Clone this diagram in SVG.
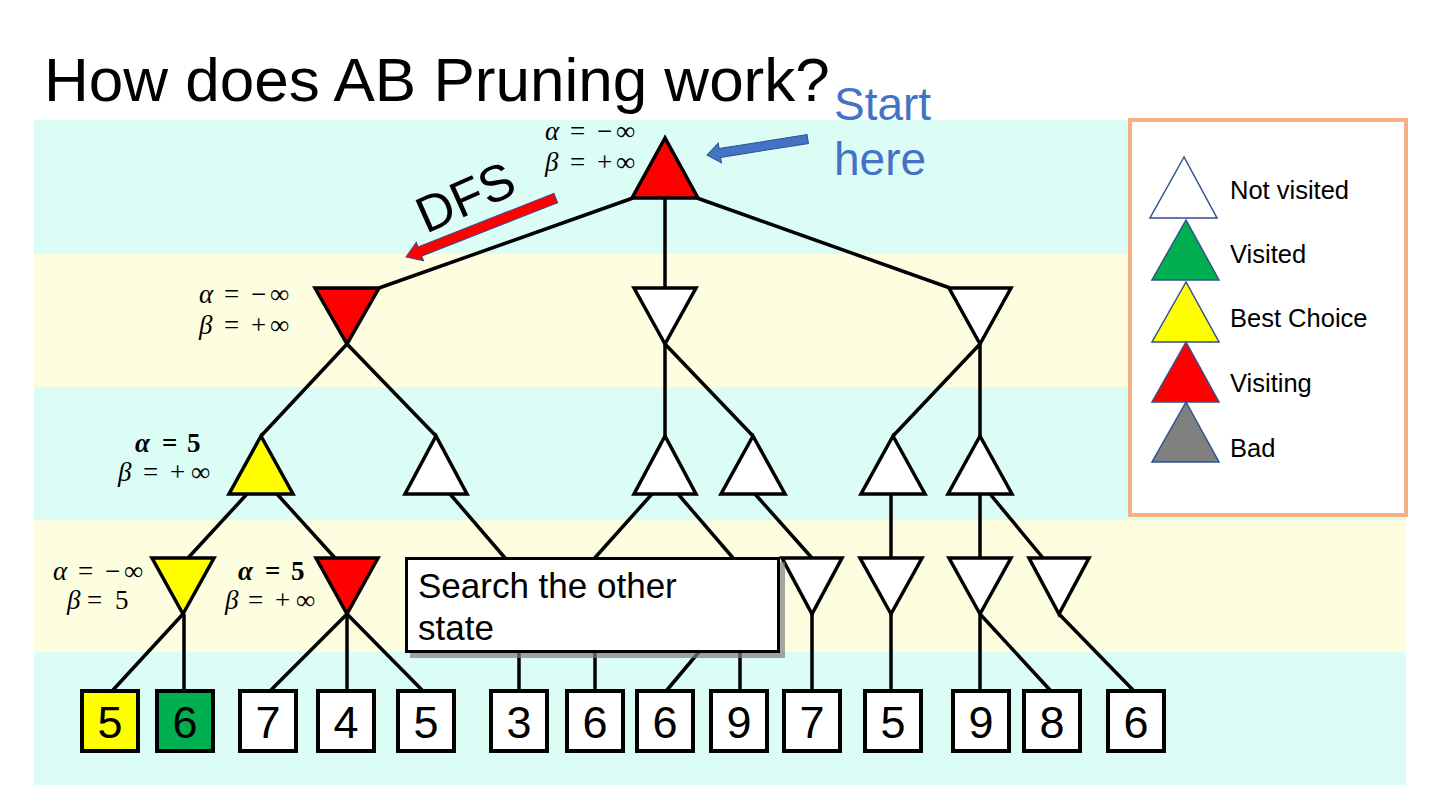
<svg xmlns="http://www.w3.org/2000/svg" width="1440" height="810" viewBox="0 0 1440 810">
<style>
.bc{fill:#dcfcf6}
.by{fill:#fdfddf}
.tri{stroke:#000;stroke-width:3.5;stroke-linejoin:miter}
.w{fill:#fff}.r{fill:#ff0000}.y{fill:#ffff00}.g{fill:#00b050}
.edge line{stroke:#000;stroke-width:3.5;stroke-linecap:butt}
.leaf{stroke:#000;stroke-width:4}
.num{font-family:"Liberation Sans",Arial,sans-serif;font-size:45px;text-anchor:middle;fill:#000}
.math{font-family:"Liberation Serif","Times New Roman",serif;font-size:27px;fill:#000}
.it{font-style:italic}
.bd{font-weight:bold}
.lg{stroke:#2f528f;stroke-width:1.5}
.lt{font-family:"Liberation Sans",Arial,sans-serif;font-size:25.5px;fill:#000}
.sans{font-family:"Liberation Sans",Arial,sans-serif}
</style>
<rect width="1440" height="810" fill="#fff"/>
<g id="bands">
<rect class="bc" x="34" y="120" width="1372" height="134"/>
<rect class="by" x="34" y="254" width="1372" height="133"/>
<rect class="bc" x="34" y="387" width="1372" height="133"/>
<rect class="by" x="34" y="520" width="1372" height="132"/>
<rect class="bc" x="34" y="652" width="1372" height="133"/>
</g>
<g id="connectors" class="edge">
<line x1="633" y1="198" x2="379" y2="288"/>
<line x1="665" y1="198" x2="665" y2="288"/>
<line x1="697" y1="198" x2="950" y2="288"/>
<line x1="347" y1="344" x2="261" y2="436"/>
<line x1="347" y1="344" x2="436" y2="436"/>
<line x1="665" y1="344" x2="665" y2="436"/>
<line x1="665" y1="344" x2="753" y2="436"/>
<line x1="980" y1="344" x2="893" y2="436"/>
<line x1="980" y1="344" x2="980" y2="436"/>
<line x1="247" y1="494" x2="188" y2="558"/>
<line x1="277" y1="494" x2="335" y2="558"/>
<line x1="450" y1="494" x2="524" y2="580"/>
<line x1="652" y1="494" x2="575" y2="580"/>
<line x1="678" y1="494" x2="752" y2="580"/>
<line x1="755" y1="494" x2="812" y2="558"/>
<line x1="891" y1="494" x2="891" y2="558"/>
<line x1="980" y1="494" x2="980" y2="558"/>
<line x1="990" y1="494" x2="1043" y2="558"/>
<line x1="183" y1="614" x2="113" y2="690"/>
<line x1="184" y1="614" x2="184" y2="690"/>
<line x1="347" y1="614" x2="271" y2="690"/>
<line x1="347" y1="614" x2="347" y2="690"/>
<line x1="347" y1="614" x2="422" y2="690"/>
<line x1="519" y1="600" x2="519" y2="690"/>
<line x1="595" y1="600" x2="595" y2="690"/>
<line x1="709" y1="640" x2="667" y2="690"/>
<line x1="740" y1="600" x2="740" y2="690"/>
<line x1="812" y1="614" x2="812" y2="690"/>
<line x1="891" y1="614" x2="891" y2="690"/>
<line x1="980" y1="614" x2="980" y2="690"/>
<line x1="980" y1="614" x2="1050" y2="690"/>
<line x1="1059" y1="614" x2="1133" y2="690"/>
</g>
<g id="root"><polygon class="tri r" points="665,138 632,198 698,198"/></g>
<g id="n1a"><polygon class="tri r" points="315,288 379,288 347,344"/></g>
<g id="n1b"><polygon class="tri w" points="634,288 696,288 665,344"/></g>
<g id="n1c"><polygon class="tri w" points="949,288 1011,288 980,344"/></g>
<g id="n2a"><polygon class="tri y" points="261,436 229,494 293,494"/></g>
<g id="n2b"><polygon class="tri w" points="436,436 405,494 467,494"/></g>
<g id="n2c"><polygon class="tri w" points="665,436 634,494 696,494"/></g>
<g id="n2d"><polygon class="tri w" points="753,436 721,494 785,494"/></g>
<g id="n2e"><polygon class="tri w" points="893,436 861,494 925,494"/></g>
<g id="n2f"><polygon class="tri w" points="980,436 948,494 1012,494"/></g>
<g id="n3a"><polygon class="tri y" points="152,558 214,558 183,614"/></g>
<g id="n3b"><polygon class="tri r" points="316,558 378,558 347,614"/></g>
<g id="n3c"><polygon class="tri w" points="782,558 842,558 812,614"/></g>
<g id="n3d"><polygon class="tri w" points="860,558 922,558 891,614"/></g>
<g id="n3e"><polygon class="tri w" points="949,558 1011,558 980,614"/></g>
<g id="n3f"><polygon class="tri w" points="1029,558 1089,558 1059,614"/></g>
<g id="leaves">
<g id="leaf1"><rect class="leaf y" x="82" y="691" width="56" height="60"/><text class="num" x="110" y="738">5</text></g>
<g id="leaf2"><rect class="leaf g" x="157" y="691" width="56" height="60"/><text class="num" x="185" y="738">6</text></g>
<g id="leaf3"><rect class="leaf w" x="240" y="691" width="56" height="60"/><text class="num" x="268" y="738">7</text></g>
<g id="leaf4"><rect class="leaf w" x="318" y="691" width="56" height="60"/><text class="num" x="346" y="738">4</text></g>
<g id="leaf5"><rect class="leaf w" x="398" y="691" width="56" height="60"/><text class="num" x="426" y="738">5</text></g>
<g id="leaf6"><rect class="leaf w" x="491" y="691" width="56" height="60"/><text class="num" x="519" y="738">3</text></g>
<g id="leaf7"><rect class="leaf w" x="567" y="691" width="56" height="60"/><text class="num" x="595" y="738">6</text></g>
<g id="leaf8"><rect class="leaf w" x="637" y="691" width="56" height="60"/><text class="num" x="665" y="738">6</text></g>
<g id="leaf9"><rect class="leaf w" x="711" y="691" width="56" height="60"/><text class="num" x="739" y="738">9</text></g>
<g id="leaf10"><rect class="leaf w" x="784" y="691" width="56" height="60"/><text class="num" x="812" y="738">7</text></g>
<g id="leaf11"><rect class="leaf w" x="865" y="691" width="56" height="60"/><text class="num" x="893" y="738">5</text></g>
<g id="leaf12"><rect class="leaf w" x="953" y="691" width="56" height="60"/><text class="num" x="981" y="738">9</text></g>
<g id="leaf13"><rect class="leaf w" x="1024" y="691" width="56" height="60"/><text class="num" x="1052" y="738">8</text></g>
<g id="leaf14"><rect class="leaf w" x="1108" y="691" width="56" height="60"/><text class="num" x="1136" y="738">6</text></g>
</g>
<g id="callout">
<rect x="410" y="562" width="375" height="96" fill="#7f7f7f" fill-opacity="0.7"/>
<rect x="406.5" y="558.5" width="372" height="93" fill="#fff" stroke="#000" stroke-width="3"/>
<text class="sans" x="418" y="598" font-size="35">Search the other</text>
<text class="sans" x="418" y="640" font-size="35">state</text>
</g>
<g id="labels" class="math">
<text y="140"><tspan class="it" x="545">α</tspan><tspan x="570">=</tspan><tspan x="597">−</tspan><tspan x="616">∞</tspan></text>
<text y="171"><tspan class="it" x="545">β</tspan><tspan x="570">=</tspan><tspan x="597">+</tspan><tspan x="616">∞</tspan></text>
<text y="303"><tspan class="it" x="199">α</tspan><tspan x="224">=</tspan><tspan x="251">−</tspan><tspan x="270">∞</tspan></text>
<text y="334"><tspan class="it" x="199">β</tspan><tspan x="224">=</tspan><tspan x="251">+</tspan><tspan x="270">∞</tspan></text>
<text y="452" class="bd"><tspan class="it" x="135">α</tspan><tspan x="162">=</tspan><tspan x="187">5</tspan></text>
<text y="481"><tspan class="it" x="118">β</tspan><tspan x="143">=</tspan><tspan x="170">+</tspan><tspan x="191">∞</tspan></text>
<text y="580"><tspan class="it" x="53">α</tspan><tspan x="78">=</tspan><tspan x="105">−</tspan><tspan x="124">∞</tspan></text>
<text y="609"><tspan class="it" x="67">β</tspan><tspan x="87">=</tspan><tspan x="115">5</tspan></text>
<text y="580" class="bd"><tspan class="it" x="238">α</tspan><tspan x="265">=</tspan><tspan x="291">5</tspan></text>
<text y="609"><tspan class="it" x="225">β</tspan><tspan x="248">=</tspan><tspan x="275">+</tspan><tspan x="296">∞</tspan></text>
</g>
<g id="dfs-arrow">
<polygon transform="translate(406,257) rotate(158.5)" points="0,0 -15,-10 -15,-5 -161,-5 -161,5 -15,5 -15,10" fill="#ff0000" stroke="#2f528f" stroke-width="1"/>
<text class="sans" transform="translate(426,234) rotate(-24)" font-size="51" fill="#000">DFS</text>
</g>
<g id="start-arrow">
<polygon transform="translate(707,155) rotate(171)" points="0,0 -13,-10 -13,-4.5 -102,-4.5 -102,4.5 -13,4.5 -13,10" fill="#4472c4" stroke="#2f528f" stroke-width="1"/>
</g>
<g id="legend">
<rect x="1130" y="120" width="276" height="395" fill="#fff" stroke="#f4b183" stroke-width="4"/>
<polygon class="lg" fill="#fff" points="1184,157 1150,218 1217,218"/>
<polygon class="lg" fill="#00b050" points="1186,220 1152,280 1219,280"/>
<polygon class="lg" fill="#ffff00" points="1186,282 1152,342 1219,342"/>
<polygon class="lg" fill="#ff0000" points="1186,342 1152,402 1219,402"/>
<polygon class="lg" fill="#808080" points="1186,402 1152,462 1219,462"/>
<text class="lt" x="1230" y="199">Not visited</text>
<text class="lt" x="1230" y="263">Visited</text>
<text class="lt" x="1230" y="327">Best Choice</text>
<text class="lt" x="1230" y="392">Visiting</text>
<text class="lt" x="1230" y="457">Bad</text>
</g>
<text id="title" class="sans" x="44" y="101" font-size="62" fill="#000">How does AB Pruning work?</text>
<g id="start-label" class="sans" font-size="46" fill="#4472c4">
<text x="834" y="120">Start</text>
<text x="834" y="175">here</text>
</g>
</svg>
